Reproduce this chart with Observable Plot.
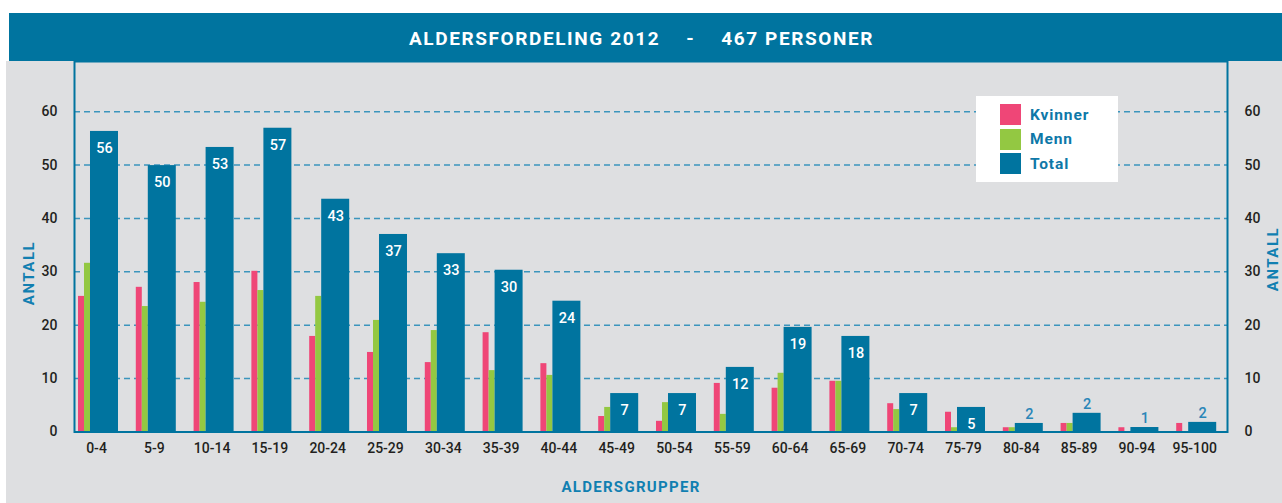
<!DOCTYPE html>
<html>
<head>
<meta charset="utf-8">
<script src="https://cdn.jsdelivr.net/npm/d3@7"></script>
<script src="https://cdn.jsdelivr.net/npm/@observablehq/plot@0.6"></script>
<style>
  html, body { margin: 0; padding: 0; background: #ffffff; width: 1282px; height: 503px; overflow: hidden; font-family: Roboto, "Noto Sans", sans-serif; }
  #banner { position: absolute; left: 9px; top: 13px; width: 1273px; height: 48px; background: #00749f; color: #fff;
    font-weight: 700; font-size: 19px; letter-spacing: 1.6px; display: flex; align-items: center; justify-content: center; padding-top: 2px; padding-right: 8px; box-sizing: border-box; }
  #banner .dash { margin: 0 26px; }
  #panel { position: absolute; left: 6px; top: 61px; width: 1276px; height: 442px; background: #dedfe1; }
  #chart { position: absolute; left: 0; top: 61px; }
  .ylab { position: absolute; color: #117fb1; font-weight: 700; font-size: 15px; letter-spacing: 1.5px; transform: translate(-50%, -50%) rotate(-90deg); white-space: nowrap; }
  #xlab { position: absolute; left: 631px; top: 487px; transform: translate(-50%, -50%); color: #117fb1; font-weight: 700; font-size: 15px; letter-spacing: 1.3px; }
  #legend { position: absolute; left: 976px; top: 96px; width: 142px; height: 86px; background: #fff; }
  .lrow { position: absolute; left: 24px; display: flex; align-items: center; }
  .sw { width: 21px; height: 21px; margin-right: 9px; }
  .lt { color: #0e78a8; font-weight: 700; font-size: 15.5px; letter-spacing: 0.9px; }
</style>
</head>
<body>
<div id="banner"><span>ALDERSFORDELING 2012</span><span class="dash">-</span><span>467 PERSONER</span></div>
<div id="panel"></div>
<div id="chart"></div>
<div class="ylab" style="left:29px; top:273px;">ANTALL</div>
<div class="ylab" style="left:1273px; top:259px;">ANTALL</div>
<div id="xlab">ALDERSGRUPPER</div>
<div id="legend"></div>
<script>
const groups = ["0-4","5-9","10-14","15-19","20-24","25-29","30-34","35-39","40-44","45-49","50-54","55-59","60-64","65-69","70-74","75-79","80-84","85-89","90-94","95-100"];
const kvinner = [25.4,27.1,28.0,30.1,17.9,14.9,13.0,18.6,12.8,2.9,2.0,9.1,8.2,9.5,5.3,3.7,0.8,1.6,0.8,1.6];
const menn = [31.6,23.5,24.3,26.5,25.4,20.9,19.0,11.5,10.6,4.6,5.5,3.3,11.0,9.5,4.2,0.8,0.8,1.6,0,0];
const totalBar = [56.3,49.9,53.3,56.9,43.6,37.0,33.4,30.3,24.5,7.2,7.2,12.1,19.6,17.9,7.2,4.6,1.6,3.5,0.84,1.8];
const totalLabel = [56,50,53,57,43,37,33,30,24,7,7,12,19,18,7,5,2,2,1,2];
const yTicks = [0,10,20,30,40,50,60];
const gridTicks = [10,20,30,40,50,60];
const seriesNames = ["Kvinner","Menn","Total"];
const seriesColors = ["#ef4677","#93c842","#00749f"];

const rows = groups.map((g, i) => ({group: g, kvinner: kvinner[i], menn: menn[i], total: totalBar[i], label: totalLabel[i]}));

const chart = Plot.plot({
  width: 1282,
  height: 442,
  marginLeft: 74,
  marginRight: 55,
  marginTop: 0,
  marginBottom: 71.5,
  style: {background: "transparent", fontFamily: "Roboto, 'Noto Sans', sans-serif", fontSize: "14px", color: "#231f20", overflow: "visible"},
  x: {domain: groups, paddingInner: 0.308, paddingOuter: 0.128, align: 0.27, round: false, axis: null},
  y: {domain: [0, 69.4], ticks: yTicks, tickSize: 0, tickPadding: 17, label: null, axis: "both"},
  marks: [
    Plot.ruleY(gridTicks, {stroke: "#3b95bd", strokeWidth: 1.5, strokeDasharray: "6,4"}),
    Plot.barY(rows, {x: "group", y: "kvinner", fill: seriesColors[0], insetLeft: 0, insetRight: 34}),
    Plot.barY(rows, {x: "group", y: "menn", fill: seriesColors[1], insetLeft: 6, insetRight: 28}),
    Plot.barY(rows, {x: "group", y: "total", fill: seriesColors[2], insetLeft: 12, insetRight: 0}),
    Plot.ruleY([0], {stroke: "#4a9fc6", strokeWidth: 2}),
    Plot.frame({stroke: "#00749f", strokeWidth: 2}),
    Plot.text(rows.filter(d => d.label > 3), {x: "group", y: "total", text: d => String(d.label), dx: 6, dy: 17, fill: "#ffffff", fontSize: 14.5, fontWeight: 500}),
    Plot.text(rows.filter(d => d.label <= 3), {x: "group", y: "total", text: d => String(d.label), dx: 6, dy: -9, fill: "#2a86b8", fontSize: 14.5, fontWeight: 500}),
    Plot.text(rows, {x: "group", text: "group", frameAnchor: "bottom", dy: 20.5, dx: -2, fill: "#231f20", fontSize: 14, fontWeight: 500})
  ]
});
chart.querySelectorAll("text").forEach(t => { if (!t.getAttribute("font-weight")) t.style.fontWeight = 500; });
document.getElementById("chart").appendChild(chart);

const legend = document.getElementById("legend");
seriesNames.forEach((name, i) => {
  const row = document.createElement("div");
  row.className = "lrow";
  row.style.top = (8 + i * 24.5) + "px";
  row.innerHTML = `<div class="sw" style="background:${seriesColors[i]}"></div><span class="lt">${name}</span>`;
  legend.appendChild(row);
});
</script>
</body>
</html>
